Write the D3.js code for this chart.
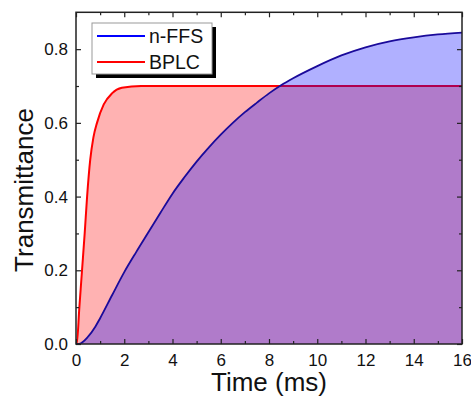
<!DOCTYPE html>
<html>
<head>
  <meta charset="utf-8">
  <script src="https://d3js.org/d3.v7.min.js"></script>
  <style>
    body { margin: 0; background: #fff; }
    svg text { font-family: "Liberation Sans", Arial, sans-serif; fill: #111; }
  </style>
</head>
<body>
  <div id="my_dataviz"></div>
  <script>
    // data
    var bplcTime = [0, 0.03, 0.14, 0.25, 0.36, 0.46, 0.59, 0.72, 0.87, 1.15, 1.49, 1.9, 2.7, 16];
    var bplcValue = [0, 0, 0.1, 0.2, 0.3, 0.4, 0.5, 0.56, 0.6, 0.65, 0.68, 0.695, 0.7, 0.7];

    var ffsTime = [0, 0.11, 0.5, 0.8, 1.0, 1.5, 2.0, 2.5, 3.0, 3.5, 4.0, 4.5, 5.0, 5.5, 6.0, 6.5, 7.0, 7.5, 8.0, 8.5, 9, 10, 11, 12, 13, 14, 15, 16];
    var ffsValue = [0, 0, 0.02, 0.047, 0.07, 0.133, 0.195, 0.25, 0.303, 0.356, 0.408, 0.453, 0.495, 0.533, 0.568, 0.6, 0.629, 0.655, 0.68, 0.702, 0.721, 0.754, 0.783, 0.805, 0.821, 0.832, 0.84, 0.845];

    var xTicks = [0, 2, 4, 6, 8, 10, 12, 14, 16];
    var xMinor = [1, 3, 5, 7, 9, 11, 13, 15];
    var yTicks = [0, 0.2, 0.4, 0.6, 0.8];
    var yMinor = [0.1, 0.3, 0.5, 0.7];

    var seriesNames = ["n-FFS", "BPLC"];

    var W = 471, H = 398;
    var plotLeft = 76, plotRight = 462, plotTop = 12.3, plotBottom = 344;

    var svg = d3.select("#my_dataviz")
      .append("svg")
      .attr("width", W)
      .attr("height", H);

    var x = d3.scaleLinear().domain([0, 16]).range([plotLeft, plotRight]);
    var y = d3.scaleLinear().domain([0, 0.9]).range([plotBottom, plotTop]);

    var bplc = bplcTime.map(function (t, i) { return { t: t, v: bplcValue[i] }; });
    var ffs = ffsTime.map(function (t, i) { return { t: t, v: ffsValue[i] }; });

    var area = d3.area()
      .curve(d3.curveMonotoneX)
      .x(function (d) { return x(d.t) })
      .y0(y(0))
      .y1(function (d) { return y(d.v) });

    var line = d3.line()
      .curve(d3.curveMonotoneX)
      .x(function (d) { return x(d.t) })
      .y(function (d) { return y(d.v) });

    // red first, blue is laid over it
    svg.append("path").attr("d", area(bplc))
      .attr("fill", "red").attr("fill-opacity", 0.3);
    svg.append("path").attr("d", line(bplc))
      .attr("fill", "none").attr("stroke", "#ff0000").attr("stroke-width", 2);

    svg.append("path").attr("d", area(ffs))
      .attr("fill", "blue").attr("fill-opacity", 0.31);
    svg.append("path").attr("d", line(ffs))
      .attr("fill", "none").attr("stroke", "#1a0a9a").attr("stroke-width", 1.8);

    // axes, ticks point inward on all four sides
    function styleAxis(g) {
      g.select(".domain").remove();
      g.selectAll("line").attr("stroke", "#222").attr("stroke-width", 1.2);
      g.selectAll("text").style("font-size", "17px")
        .style("font-family", "'Liberation Sans', Arial, sans-serif").attr("fill", "#111");
    }

    svg.append("g").attr("transform", "translate(0," + plotBottom + ")")
      .call(d3.axisBottom(x).tickValues(xTicks).tickSize(-5).tickPadding(10).tickFormat(d3.format("d")))
      .call(styleAxis);
    svg.append("g").attr("transform", "translate(0," + plotBottom + ")")
      .call(d3.axisBottom(x).tickValues(xMinor).tickSize(-3).tickFormat(""))
      .call(styleAxis);
    svg.append("g").attr("transform", "translate(0," + plotTop + ")")
      .call(d3.axisTop(x).tickValues(xTicks).tickSize(-5).tickFormat(""))
      .call(styleAxis);
    svg.append("g").attr("transform", "translate(0," + plotTop + ")")
      .call(d3.axisTop(x).tickValues(xMinor).tickSize(-3).tickFormat(""))
      .call(styleAxis);

    svg.append("g").attr("transform", "translate(" + plotLeft + ",0)")
      .call(d3.axisLeft(y).tickValues(yTicks).tickSize(-5).tickPadding(8).tickFormat(d3.format(".1f")))
      .call(styleAxis);
    svg.append("g").attr("transform", "translate(" + plotLeft + ",0)")
      .call(d3.axisLeft(y).tickValues(yMinor).tickSize(-3).tickFormat(""))
      .call(styleAxis);
    svg.append("g").attr("transform", "translate(" + plotRight + ",0)")
      .call(d3.axisRight(y).tickValues(yTicks).tickSize(-5).tickFormat(""))
      .call(styleAxis);
    svg.append("g").attr("transform", "translate(" + plotRight + ",0)")
      .call(d3.axisRight(y).tickValues(yMinor).tickSize(-3).tickFormat(""))
      .call(styleAxis);

    // frame
    svg.append("rect")
      .attr("x", plotLeft).attr("y", plotTop)
      .attr("width", plotRight - plotLeft).attr("height", plotBottom - plotTop)
      .attr("fill", "none").attr("stroke", "#222").attr("stroke-width", 1.5);

    // axis titles
    svg.append("text")
      .attr("x", (plotLeft + plotRight) / 2)
      .attr("y", 391)
      .attr("text-anchor", "middle")
      .style("font-size", "26px")
      .text("Time (ms)");

    svg.append("text")
      .attr("transform", "translate(33,190) rotate(-90)")
      .attr("text-anchor", "middle")
      .style("font-size", "26px")
      .text("Transmittance");

    // legend with drop shadow
    var lg = svg.append("g").attr("transform", "translate(92,23)");
    lg.append("rect").attr("x", 4).attr("y", 4).attr("width", 120).attr("height", 51).attr("fill", "#000");
    lg.append("rect").attr("width", 120).attr("height", 51)
      .attr("fill", "#fff").attr("stroke", "#999").attr("stroke-width", 1);

    var legColor = d3.scaleOrdinal().domain(seriesNames).range(["#0000ff", "#ff0000"]);
    var item = lg.selectAll("g.item")
      .data(seriesNames)
      .enter()
      .append("g")
      .attr("transform", function (d, i) { return "translate(0," + (13 + i * 26) + ")"; });
    item.append("line")
      .attr("x1", 5).attr("x2", 53)
      .attr("stroke", function (d) { return legColor(d) })
      .attr("stroke-width", 2);
    item.append("text")
      .attr("x", 57).attr("y", 7)
      .style("font-size", "19.5px")
      .text(function (d) { return d; });
  </script>
</body>
</html>
